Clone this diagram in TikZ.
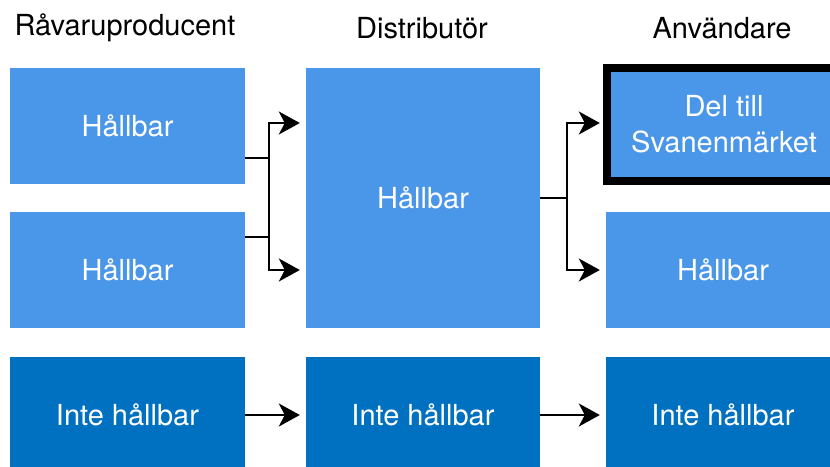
\documentclass[tikz,border=0pt]{standalone}
\usepackage{fontspec}
\setmainfont{TeX Gyre Heros}
\usetikzlibrary{arrows.meta}
\definecolor{ljusbla}{HTML}{4A96E8}
\definecolor{morkbla}{HTML}{0070C1}

\begin{document}
\begin{tikzpicture}[x=1pt, y=-1pt,
    ruta/.style={fill=ljusbla, text=white, inner sep=0pt, minimum width=235pt,
      minimum height=116pt, align=center, font=\fontsize{29}{36}\selectfont},
    inte/.style={ruta, fill=morkbla},
    pil/.style={-{Stealth[length=21pt, width=23pt, inset=6pt]}, line width=2.3pt, shorten >=6pt},
    linje/.style={line width=2.3pt}]
  \clip (0,0) rectangle (830,466);
  % rubriker
  \foreach \x/\A/\n in {125/Råvaruproducent/rubrik1, 422/Distributör/rubrik2, 722/Användare/rubrik3}
  {
    \node[font=\fontsize{29}{36}\selectfont] (\n) at (\x,28) {\A};
  }
  % rutor
  \node[ruta] (rp1) at (127.5,126) {Hållbar};
  \node[ruta] (rp2) at (127.5,270) {Hållbar};
  \node[inte] (rp3) at (127.5,415) {Inte hållbar};
  \node[ruta, minimum width=234pt, minimum height=260pt] (di1) at (423,198) {Hållbar};
  \node[inte, minimum width=234pt] (di2) at (423,415) {Inte hållbar};
  \node[ruta, draw=black, line width=8pt, minimum width=234pt, minimum height=113pt] (an1) at (724,124.5) {Del till\\Svanenmärket};
  \node[ruta, minimum width=234pt] (an2) at (723,270) {Hållbar};
  \node[inte, minimum width=234pt] (an3) at (723,415) {Inte hållbar};
  % pilar
  \coordinate (vt) at (269,123);
  \coordinate (vb) at (269,270);
  \coordinate (ht) at (567,123);
  \coordinate (hb) at (567,270);
  \draw[linje] ([yshift=-32pt]rp1.east) -- ++(24,0);
  \draw[linje] ([yshift=33pt]rp2.east) -- ++(24,0);
  \draw[pil] (vb) -- (vt) -- (vt -| di1.west);
  \draw[pil] (vt) -- (vb) -- (vb -| di1.west);
  \draw[linje] (di1.east) -- ++(27,0);
  \draw[pil] (hb) -- (ht) -- (ht -| an2.west);
  \draw[pil] (ht) -- (hb) -- (hb -| an2.west);
  \draw[pil] (rp3.east) -- (di2.west);
  \draw[pil] (di2.east) -- (an3.west);
\end{tikzpicture}
\end{document}
